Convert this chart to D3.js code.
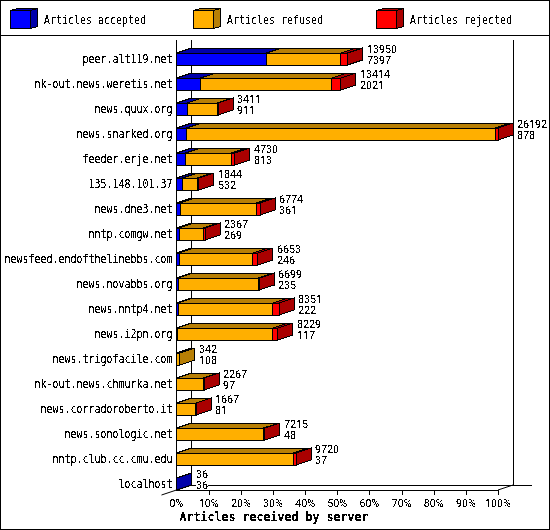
<!DOCTYPE html>
<html lang="en">

<head>
  <meta charset="UTF-8">
  <title>Articles received by server</title>
  <style>
    html, body {
      margin: 0;
      padding: 0;
      background-color: #fff;
    }

    svg {
      display: block;
    }

    text {
      font-family: "DejaVu Sans Mono", monospace;
      font-size: 11.5px;
      fill: #000;
    }

    /* plain zero, the mono fonts here all slash it */
    text.num {
      font-family: Roboto, sans-serif;
      font-size: 11.5px;
    }

    .title {
      font-weight: bold;
      font-size: 13px;
    }

    .edge {
      stroke: #000;
      stroke-width: 1;
      shape-rendering: crispEdges;
    }
  </style>
  <script src="https://d3js.org/d3.v7.min.js"></script>
</head>

<body>
  <svg width="550" height="530">
    <defs>
      <filter id="bitmap" x="-5%" y="-5%" width="110%" height="110%">
        <feComponentTransfer>
          <feFuncA type="discrete" tableValues="0 0 0 0 1 1 1 1 1"></feFuncA>
        </feComponentTransfer>
      </filter>
    </defs>
  </svg>

  <script>
    const servers = ["peer.alt119.net", "nk-out.news.weretis.net", "news.quux.org", "news.snarked.org",
      "feeder.erje.net", "135.148.101.37", "news.dne3.net", "nntp.comgw.net", "newsfeed.endofthelinebbs.com",
      "news.novabbs.org", "news.nntp4.net", "news.i2pn.org", "news.trigofacile.com", "nk-out.news.chmurka.net",
      "news.corradoroberto.it", "news.sonologic.net", "nntp.club.cc.cmu.edu", "localhost"];

    // bar lengths in percent
    const accepted = [28.0, 7.5, 3.3, 3.1, 2.8, 1.9, 1.2, 0.9, 0.9, 0.5, 0.5, 0.2, 0, 0.1, 0, 0, 0, 0.1];
    const refused = [23.1, 40.8, 9.3, 96.1, 14.3, 4.6, 23.7, 7.4, 22.8, 25.0, 29.4, 29.7, 1.0, 8.3, 6.0, 27.1, 36.3, 0];
    const rejected = [2.1, 2.8, 0.4, 0.8, 1.0, 0.4, 1.1, 0.7, 1.6, 0.3, 2.0, 1.6, 0, 0.2, 0.2, 0.4, 0.9, 0];

    // the two numbers printed next to each bar
    const upperLabels = [13950, 13414, 3411, 26192, 4730, 1844, 6774, 2367, 6653, 6699, 8351, 8229, 342, 2267, 1667, 7215, 9720, 36];
    const lowerLabels = [7397, 2021, 911, 878, 813, 532, 361, 269, 246, 235, 222, 117, 108, 97, 81, 48, 37, 36];

    const legendLabels = ["Articles accepted", "Articles refused", "Articles rejected"];
    const legendX = [10.5, 193.5, 376.5];
    const frontColors = ["#0000ff", "#ffaf00", "#ff0000"];
    const darkColors = ["#0000aa", "#b87f05", "#aa0000"];
    const percentTicks = [0, 10, 20, 30, 40, 50, 60, 70, 80, 90, 100];

    const depthX = 15;
    const depthY = 5;
    const barHeight = 12;
    const floorY = 490;

    const svg = d3.select("svg");

    const x = d3.scaleLinear().domain([0, 100]).range([176.5, 498]);
    const y = d3.scaleBand().domain(servers).range([40, floorY]);

    // squeezed so the glyphs come out tall like the 6x13 bitmap font
    const xSqueeze = 0.867;
    const squeeze = (px, py) => `translate(${px},${py}) scale(${xSqueeze},1)`;
    const numSqueeze = (px, py) => `translate(${px},${py}) scale(0.93,1)`;
    const poly = (pts) => pts.map(p => p.join(",")).join(" ");

    // frame and legend
    svg.append("rect").attr("class", "edge").attr("fill", "#fff")
      .attr("x", 0.5).attr("y", 0.5).attr("width", 549).attr("height", 529);
    svg.append("line").attr("class", "edge")
      .attr("x1", 0).attr("x2", 550).attr("y1", 35.5).attr("y2", 35.5);

    const legend = svg.append("g");
    legendLabels.forEach((label, i) => {
      const lx = legendX[i], ly = 10.5, w = 20, h = 18, dx = 7, dy = 2;
      legend.append("polygon").attr("class", "edge").attr("fill", darkColors[i])
        .attr("points", poly([[lx, ly], [lx + dx, ly - dy], [lx + w + dx, ly - dy], [lx + w, ly]]));
      legend.append("polygon").attr("class", "edge").attr("fill", darkColors[i])
        .attr("points", poly([[lx + w, ly], [lx + w + dx, ly - dy], [lx + w + dx, ly + h - dy], [lx + w, ly + h]]));
      legend.append("rect").attr("class", "edge").attr("fill", frontColors[i])
        .attr("x", lx).attr("y", ly).attr("width", w).attr("height", h);
    });

    // walls and floor behind the bars
    const walls = svg.append("g");
    const wallLine = (x1, y1, x2, y2) => walls.append("line").attr("class", "edge")
      .attr("x1", x1).attr("y1", y1).attr("x2", x2).attr("y2", y2);
    wallLine(x(0) + depthX, 40, x(0) + depthX, floorY - depthY);
    wallLine(x(100) + depthX, 40, x(100) + depthX, floorY - depthY);
    wallLine(x(0) + depthX, floorY - depthY, 532, floorY - depthY);

    // the value labels blank out whatever is behind them
    const bars = svg.append("g");
    const labelBacks = svg.append("g");
    const textLayer = svg.append("g").attr("filter", "url(#bitmap)");

    servers.forEach((server, i) => {
      const yTop = y(server) + y.bandwidth() - barHeight;
      const row = bars.append("g");
      const values = [accepted[i], refused[i], rejected[i]];
      let cum = 0;
      let last = 0;
      const parts = [];
      values.forEach((v, k) => {
        if (v > 0) {
          parts.push({ from: cum, to: cum + v, k: k });
          last = k;
        }
        cum += v;
      });

      parts.forEach(p => {
        const x0 = x(p.from), x1 = x(p.to);
        row.append("polygon").attr("class", "edge").attr("fill", darkColors[p.k])
          .attr("points", poly([[x0, yTop], [x0 + depthX, yTop - depthY], [x1 + depthX, yTop - depthY], [x1, yTop]]));
      });
      const xEnd = x(cum);
      row.append("polygon").attr("class", "edge").attr("fill", darkColors[last])
        .attr("points", poly([[xEnd, yTop], [xEnd + depthX, yTop - depthY], [xEnd + depthX, yTop + barHeight - depthY], [xEnd, yTop + barHeight]]));
      parts.forEach(p => {
        row.append("rect").attr("class", "edge").attr("fill", frontColors[p.k])
          .attr("x", x(p.from)).attr("y", yTop)
          .attr("width", x(p.to) - x(p.from)).attr("height", barHeight);
      });

      textLayer.append("text").attr("text-anchor", "end")
        .attr("transform", squeeze(172.5, yTop + 10))
        .text(server);

      // both numbers go in one text element, one tspan per line
      const lx = Math.round(xEnd + depthX + 4);
      const pair = textLayer.append("text").attr("class", "num").attr("transform", numSqueeze(lx, yTop));
      pair.append("tspan").attr("x", 0).attr("y", 0).text(upperLabels[i]);
      pair.append("tspan").attr("x", 0).attr("y", 11).text(lowerLabels[i]);
      const longest = Math.max(String(upperLabels[i]).length, String(lowerLabels[i]).length);
      labelBacks.append("rect").attr("fill", "#fff")
        .attr("x", lx).attr("y", yTop - 9).attr("width", longest * 6).attr("height", 22);
    });

    // front edge of the floor, drawn over the labels
    const front = svg.append("g");
    const frontLine = (x1, y1, x2, y2) => front.append("line").attr("class", "edge")
      .attr("x1", x1).attr("y1", y1).attr("x2", x2).attr("y2", y2);
    frontLine(x(0), 40, x(0), floorY);
    frontLine(x(0), floorY, x(100), floorY);
    front.append("line").attr("stroke", "#000")
      .attr("x1", x(0) - depthX).attr("y1", floorY + depthY).attr("x2", x(0) + depthX).attr("y2", floorY - depthY);
    front.append("line").attr("stroke", "#000")
      .attr("x1", x(100)).attr("y1", floorY).attr("x2", x(100) + depthX).attr("y2", floorY - depthY);

    // percent axis
    const axis = svg.append("g")
      .attr("transform", `translate(0,${floorY})`)
      .call(d3.axisBottom(x).tickValues(percentTicks).tickFormat(d => d + "%").tickSize(5));
    axis.select(".domain").remove();
    axis.selectAll(".tick line").attr("class", "edge").filter(d => d === 0).remove();
    axis.selectAll(".tick text").remove();

    percentTicks.forEach(t => {
      textLayer.append("text").attr("class", "num").attr("text-anchor", "middle")
        .attr("transform", numSqueeze(x(t), 507))
        .text(t + "%");
    });

    legendLabels.forEach((label, i) => {
      textLayer.append("text")
        .attr("transform", squeeze(legendX[i] + 33.5, 24))
        .text(label);
    });

    textLayer.append("text").attr("class", "title").attr("text-anchor", "middle")
      .attr("transform", `translate(274,521) scale(0.894,1)`)
      .text("Articles received by server");
  </script>
</body>

</html>
